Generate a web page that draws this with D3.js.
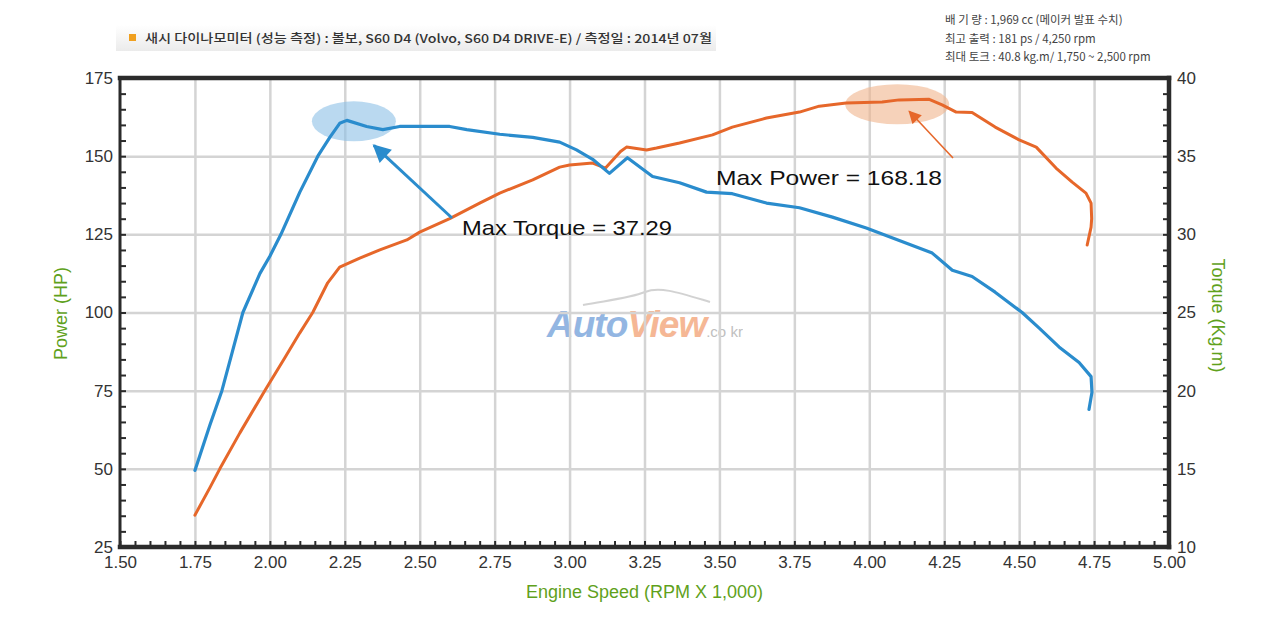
<!DOCTYPE html>
<html>
<head>
<meta charset="utf-8">
<script src="https://cdn.jsdelivr.net/npm/d3@7"></script>
<style>
  html, body { margin: 0; padding: 0; background: #fff; }
  svg { display: block; }
</style>
</head>
<body>
<svg id="chart" width="1280" height="621"></svg>
<script>
// ---------------- DATA ----------------
const headerTitle = "새시 다이나모미터 (성능 측정) : 볼보, S60 D4 (Volvo, S60 D4 DRIVE-E) / 측정일 : 2014년 07월";
const specLines = [
  "배  기  량 : 1,969 cc  (메이커 발표 수치)",
  "최고 출력 : 181 ps / 4,250 rpm",
  "최대 토크 : 40.8 kg.m/ 1,750 ~ 2,500 rpm"
];

const xTicks = [1.50, 1.75, 2.00, 2.25, 2.50, 2.75, 3.00, 3.25, 3.50, 3.75, 4.00, 4.25, 4.50, 4.75, 5.00];
const powerTicks = [25, 50, 75, 100, 125, 150, 175];
const torqueTicks = [10, 15, 20, 25, 30, 35, 40];

// Power (HP) curve
const powerRpm = [1.75, 1.80, 1.833, 1.90, 1.983, 2.05, 2.10, 2.143, 2.193, 2.233, 2.30, 2.367, 2.457, 2.50, 2.60, 2.70,
  2.767, 2.877, 2.967, 3.00, 3.077, 3.12, 3.17, 3.19, 3.257, 3.29, 3.367, 3.477, 3.543, 3.657, 3.767, 3.833, 3.923, 4.043,
  4.10, 4.20, 4.243, 4.29, 4.343, 4.42, 4.50, 4.557, 4.623, 4.677, 4.723, 4.740, 4.742, 4.740, 4.727];
const powerHP = [35.2, 44.0, 50.0, 61.5, 75.0, 85.5, 93.5, 100.0, 109.5, 114.5, 117.4, 120.0, 123.2, 125.7, 130.0, 135.0,
  138.2, 142.4, 146.5, 147.2, 147.8, 146.2, 151.5, 152.9, 152.0, 152.6, 154.2, 156.8, 159.3, 162.2, 164.1, 166.0, 167.0, 167.3,
  168.0, 168.18, 166.4, 164.1, 164.0, 159.3, 155.2, 152.9, 146.2, 141.7, 138.2, 135.0, 130.0, 127.3, 121.6];

// Torque (Kg.m) curve
const torqueRpm = [1.75, 1.80, 1.84, 1.875, 1.91, 1.967, 2.00, 2.037, 2.10, 2.16, 2.20, 2.233, 2.257, 2.323, 2.377, 2.433,
  2.60, 2.657, 2.767, 2.877, 2.967, 3.023, 3.077, 3.133, 3.193, 3.277, 3.367, 3.457, 3.543, 3.657, 3.767, 3.877, 3.99, 4.10,
  4.21, 4.277, 4.343, 4.42, 4.51, 4.567, 4.633, 4.70, 4.74, 4.743, 4.733];
const torqueKgm = [14.9, 17.8, 20.0, 22.5, 25.0, 27.5, 28.6, 30.0, 32.7, 35.0, 36.2, 37.1, 37.29, 36.9, 36.7, 36.9,
  36.9, 36.7, 36.4, 36.2, 35.9, 35.4, 34.8, 33.9, 34.9, 33.7, 33.3, 32.7, 32.6, 32.0, 31.7, 31.1, 30.4, 29.6,
  28.8, 27.7, 27.3, 26.3, 25.0, 24.0, 22.8, 21.8, 20.9, 19.9, 18.8];

const maxTorque = { rpm: 2.257, value: 37.29, label: "Max Torque = 37.29" };
const maxPower = { rpm: 4.15, value: 168.18, label: "Max Power = 168.18" };

// ---------------- CHART ----------------
const svg = d3.select("#chart");
const L = 120, R = 1169, T = 78, B = 547;

const x = d3.scaleLinear().domain([1.5, 5]).range([L, R]);
const yP = d3.scaleLinear().domain([25, 175]).range([B, T]);
const yT = d3.scaleLinear().domain([10, 40]).range([B, T]);

const BLUE = "#2a8ccd", ORANGE = "#e6672a", GREEN = "#5fa11c", DARK = "#2b2b2b";
const FONT = "'Liberation Sans', Arial, Helvetica, sans-serif";
const KFONT = "'Noto Sans CJK KR', 'Noto Sans', sans-serif";

// header bar
const defs = svg.append("defs");
const hdrGrad = defs.append("linearGradient").attr("id", "hdr").attr("x1", 0).attr("y1", 0).attr("x2", 0).attr("y2", 1);
hdrGrad.append("stop").attr("offset", "0%").attr("stop-color", "#ffffff");
hdrGrad.append("stop").attr("offset", "100%").attr("stop-color", "#ebebeb");
svg.append("rect").attr("x", 116).attr("y", 25).attr("width", 600).attr("height", 26).attr("fill", "url(#hdr)");
svg.append("rect").attr("x", 129).attr("y", 34).attr("width", 7).attr("height", 7).attr("fill", "#f0a020");
svg.append("text").attr("x", 145).attr("y", 42.5).attr("font-family", KFONT).attr("font-size", 12).attr("font-weight", 500)
  .attr("fill", "#333").attr("textLength", 567).attr("lengthAdjust", "spacingAndGlyphs").text(headerTitle);

svg.append("g").selectAll("text").data(specLines).join("text")
  .attr("x", 945).attr("y", (d, i) => 24 + i * 18.5)
  .attr("font-family", KFONT).attr("font-size", 11.5).attr("fill", "#444")
  .text(d => d);

// watermark
const wm = svg.append("g").attr("opacity", 0.8);
wm.append("path").attr("d", "M583,305 C610,300 630,298 645,292 C660,286 680,293 710,302")
  .attr("fill", "none").attr("stroke", "#c8c8c8").attr("stroke-width", 2);
const wmText = wm.append("text").attr("x", 547).attr("y", 337).attr("font-family", FONT).attr("font-size", 37)
  .attr("font-weight", "bold").attr("font-style", "italic").attr("letter-spacing", -1);
wmText.append("tspan").attr("fill", "#79a5dc").text("Auto");
wmText.append("tspan").attr("fill", "#f3a67b").text("View");
wmText.append("tspan").attr("fill", "#b0b0b0").attr("font-size", 15).attr("font-weight", "normal").attr("font-style", "normal")
  .attr("letter-spacing", 0).text(".co kr");

// gridlines
const grid = svg.append("g");
grid.append("g").attr("transform", `translate(0,${B})`)
  .call(d3.axisBottom(x).tickValues(xTicks.filter(v => v > 1.5 && v < 5)).tickSize(-(B - T)).tickFormat(""))
  .call(g => g.select(".domain").remove())
  .call(g => g.selectAll("line").attr("stroke", "#d4d4d4").attr("stroke-width", 2.5));
grid.append("g").attr("transform", `translate(${L},0)`)
  .call(d3.axisLeft(yP).tickValues(powerTicks.filter(v => v > 25 && v < 175)).tickSize(-(R - L)).tickFormat(""))
  .call(g => g.select(".domain").remove())
  .call(g => g.selectAll("line").attr("stroke", "#d4d4d4").attr("stroke-width", 2.5));

// minor ticks (inward)
const xMinor = d3.range(150, 501, 5).map(v => v / 100);
const pMinor = d3.range(25, 176, 5);
const tMinor = d3.range(10, 41, 1);
svg.append("g").attr("transform", `translate(0,${B})`)
  .call(d3.axisBottom(x).tickValues(xMinor).tickSize(-6).tickFormat(""))
  .call(g => g.select(".domain").remove())
  .call(g => g.selectAll("line").attr("stroke", DARK).attr("stroke-width", 2));
svg.append("g").attr("transform", `translate(${L},0)`)
  .call(d3.axisLeft(yP).tickValues(pMinor).tickSize(-6).tickFormat(""))
  .call(g => g.select(".domain").remove())
  .call(g => g.selectAll("line").attr("stroke", DARK).attr("stroke-width", 2));
svg.append("g").attr("transform", `translate(${R},0)`)
  .call(d3.axisRight(yT).tickValues(tMinor).tickSize(-6).tickFormat(""))
  .call(g => g.select(".domain").remove())
  .call(g => g.selectAll("line").attr("stroke", DARK).attr("stroke-width", 2));

// tick labels
svg.append("g").attr("transform", `translate(0,${B})`)
  .call(d3.axisBottom(x).tickValues(xTicks).tickSize(0).tickPadding(9).tickFormat(d3.format(".2f")))
  .call(g => g.select(".domain").remove())
  .call(g => g.selectAll("text").attr("font-family", FONT).attr("font-size", 17).attr("fill", "#333"));
svg.append("g").attr("transform", `translate(${L},0)`)
  .call(d3.axisLeft(yP).tickValues(powerTicks).tickSize(0).tickPadding(7).tickFormat(d3.format("d")))
  .call(g => g.select(".domain").remove())
  .call(g => g.selectAll("text").attr("font-family", FONT).attr("font-size", 17).attr("fill", "#333"));
svg.append("g").attr("transform", `translate(${R},0)`)
  .call(d3.axisRight(yT).tickValues(torqueTicks).tickSize(0).tickPadding(8).tickFormat(d3.format("d")))
  .call(g => g.select(".domain").remove())
  .call(g => g.selectAll("text").attr("font-family", FONT).attr("font-size", 17).attr("fill", "#333"));

// frame
const frame = svg.append("g").attr("stroke", DARK).attr("stroke-linecap", "square");
frame.append("line").attr("x1", L).attr("x2", R).attr("y1", T).attr("y2", T).attr("stroke-width", 4.5);
frame.append("line").attr("x1", L).attr("x2", R).attr("y1", B).attr("y2", B).attr("stroke-width", 4.5);
frame.append("line").attr("x1", L).attr("x2", L).attr("y1", T).attr("y2", B).attr("stroke-width", 3);
frame.append("line").attr("x1", R).attr("x2", R).attr("y1", T).attr("y2", B).attr("stroke-width", 4.5);

// axis titles
svg.append("text").attr("transform", `translate(67,${(T + B) / 2 + 1}) rotate(-90)`).attr("text-anchor", "middle")
  .attr("font-family", FONT).attr("font-size", 18).attr("fill", GREEN).text("Power (HP)");
svg.append("text").attr("transform", `translate(1212,${(T + B) / 2 + 3}) rotate(90)`).attr("text-anchor", "middle")
  .attr("font-family", FONT).attr("font-size", 18).attr("fill", GREEN).text("Torque (Kg.m)");
svg.append("text").attr("x", (L + R) / 2).attr("y", 598).attr("text-anchor", "middle")
  .attr("font-family", FONT).attr("font-size", 18).attr("fill", GREEN).text("Engine Speed (RPM X 1,000)");

// highlight ellipses
svg.append("ellipse").attr("cx", x(maxTorque.rpm) + 7).attr("cy", yT(maxTorque.value) + 1).attr("rx", 42).attr("ry", 20)
  .attr("fill", "#8cc0e6").attr("opacity", 0.6);
svg.append("ellipse").attr("cx", x(maxPower.rpm) - 17).attr("cy", yP(maxPower.value) + 5).attr("rx", 52).attr("ry", 20)
  .attr("fill", "#f0b48c").attr("opacity", 0.6);

// curves
const linePower = d3.line().x((d, i) => x(powerRpm[i])).y(d => yP(d)).curve(d3.curveLinear);
const lineTorque = d3.line().x((d, i) => x(torqueRpm[i])).y(d => yT(d)).curve(d3.curveLinear);
svg.append("path").datum(powerHP).attr("d", linePower).attr("fill", "none").attr("stroke", ORANGE)
  .attr("stroke-width", 3).attr("stroke-linejoin", "round").attr("stroke-linecap", "round");
svg.append("path").datum(torqueKgm).attr("d", lineTorque).attr("fill", "none").attr("stroke", BLUE)
  .attr("stroke-width", 3.2).attr("stroke-linejoin", "round").attr("stroke-linecap", "round");

// arrows
defs.append("marker").attr("id", "arrB").attr("viewBox", "0 0 10 10").attr("refX", 9).attr("refY", 5)
  .attr("markerWidth", 7).attr("markerHeight", 6).attr("markerUnits", "strokeWidth").attr("orient", "auto")
  .append("path").attr("d", "M0,0 L10,5 L0,10 Z").attr("fill", BLUE);
defs.append("marker").attr("id", "arrO").attr("viewBox", "0 0 10 10").attr("refX", 9).attr("refY", 5)
  .attr("markerWidth", 9).attr("markerHeight", 8).attr("markerUnits", "strokeWidth").attr("orient", "auto")
  .append("path").attr("d", "M0,0 L10,5 L0,10 Z").attr("fill", ORANGE);

svg.append("line").attr("x1", 452).attr("y1", 218).attr("x2", x(maxTorque.rpm) + 27).attr("y2", yT(maxTorque.value) + 25)
  .attr("stroke", BLUE).attr("stroke-width", 3).attr("marker-end", "url(#arrB)");
svg.append("line").attr("x1", 953).attr("y1", 158).attr("x2", x(maxPower.rpm) - 5).attr("y2", yP(maxPower.value) + 12)
  .attr("stroke", ORANGE).attr("stroke-width", 1.6).attr("marker-end", "url(#arrO)");

// annotation labels
svg.append("text").attr("x", 462).attr("y", 235).attr("font-family", FONT).attr("font-size", 21).attr("fill", "#111")
  .attr("textLength", 210).attr("lengthAdjust", "spacingAndGlyphs").text(maxTorque.label);
svg.append("text").attr("x", 716).attr("y", 185).attr("font-family", FONT).attr("font-size", 21).attr("fill", "#111")
  .attr("textLength", 226).attr("lengthAdjust", "spacingAndGlyphs").text(maxPower.label);
</script>
</body>
</html>
